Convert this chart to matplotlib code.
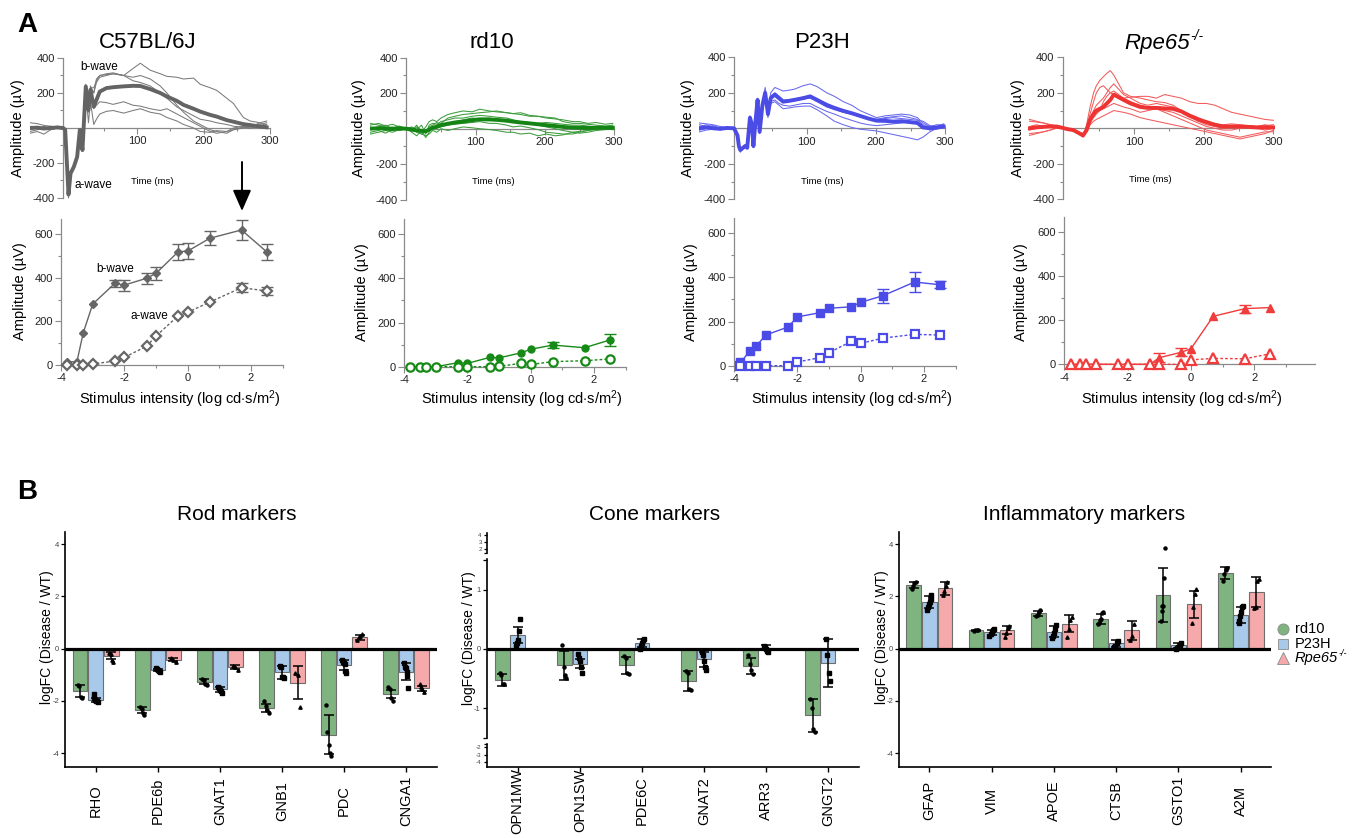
import matplotlib
matplotlib.use('Agg')
import matplotlib.pyplot as plt
import numpy as np

plt.rcParams['font.family'] = ['Liberation Sans', 'DejaVu Sans']
plt.rcParams['mathtext.fontset'] = 'custom'
plt.rcParams['mathtext.rm'] = 'Liberation Sans'
plt.rcParams['mathtext.it'] = 'Liberation Sans:italic'
plt.rcParams['mathtext.bf'] = 'Liberation Sans:bold'
plt.rcParams['axes.unicode_minus'] = False

# ---------------- Panel A: ERG traces ----------------
t_c57 = [-61, -50, -40, -30, -20, -11, -8, -3, 0, 5, 10, 14, 18, 23, 27, 30, 35, 39, 44, 54, 64, 80, 94,
         105, 120, 135, 145, 160, 170, 185, 195, 210, 220, 235, 245, 260, 270, 285, 295]
c57_mean = [0, 2, -3, 0, 3, 0, -10, -380, -260, -222, -165, -11, -126, 237, 103, 218, 122, 160, 208, 228, 233,
            238, 241, 240, 222, 200, 180, 155, 132, 110, 94, 75, 65, 45, 36, 22, 17, 8, 4]
c57_tr1 = [-30, -20, -35, -10, 0, -5, -15, -400, -270, -230, -170, -20, -130, 250, 110, 240, 200, 280, 300, 305,
           310, 300, 340, 370, 330, 310, 295, 290, 280, 285, 250, 230, 215, 170, 140, 60, 40, 30, 40]
c57_tr2 = [30, 25, 15, 10, 5, 0, -10, -370, -250, -215, -160, -5, -120, 230, 100, 230, 230, 270, 300, 310, 315,
           300, 290, 300, 280, 240, 200, 130, 90, 40, 20, -10, -20, -30, -10, 0, 10, 20, 30]
c57_tr3 = [-20, -10, 0, 10, 5, 0, -5, -385, -255, -220, -160, -10, -125, 220, 90, 200, 110, 130, 150, 145, 135,
           150, 130, 125, 110, 100, 110, 80, 60, 30, 10, -20, -30, -20, -10, 5, 0, 10, 20]
c57_tr4 = [10, -5, 10, -10, 0, 0, -10, -390, -265, -225, -170, -15, -135, 210, 30, 150, 20, 50, 80, 95, 100, 85,
           100, 110, 90, 80, 60, 40, 20, 0, -20, -25, -15, -20, 0, 10, 5, 30, 10]
c57_tr5 = [-10, 5, -5, 0, 10, 5, -10, -375, -255, -220, -160, -10, -120, 240, 110, 225, 200, 260, 290, 300, 310,
           300, 270, 260, 240, 200, 170, 120, 100, 70, 50, 40, 30, 20, 10, 5, 0, 10, 20]

t_rd10 = [-52, -40, -30, -20, -10, 0, 8, 15, 22, 28, 33, 38, 44, 50, 60, 70, 82, 95, 106, 120, 130, 145, 154,
          165, 178, 190, 202, 215, 226, 240, 250, 262, 274, 287, 298]
rd10_mean = [0, 3, 0, -2, 2, 0, -5, -10, -12, -15, -5, 5, 10, 20, 28, 35, 40, 48, 53, 52, 50, 45, 40, 35, 30,
             25, 20, 15, 10, 6, 5, 4, 5, 5, 5]
rd10_tr1 = [20, 30, 15, 25, 10, 0, -10, 20, -20, 10, 40, 50, 40, 60, 80, 90, 100, 95, 110, 100, 95, 90, 85, 80,
            70, 70, 60, 55, 50, 40, 40, 30, 35, 25, 30]
rd10_tr2 = [-20, -10, -25, -5, -10, 0, -20, -40, -10, -50, -20, 10, 20, 30, 60, 70, 80, 85, 90, 95, 100, 90, 85,
            90, 75, 70, 65, 60, 40, 30, 30, 25, 20, 15, 20]
rd10_tr3 = [10, -5, 5, 10, 0, 0, 5, -20, -30, -40, -30, -10, -20, 0, -10, 0, 10, 5, 0, -5, -10, -20, -20, -30,
            -25, -40, -30, -40, -35, -20, -15, -10, -5, 0, -5]
rd10_tr4 = [-30, -20, -10, -20, -5, 0, 10, -5, 20, -30, 20, 30, 25, 40, 50, 60, 60, 70, 75, 70, 65, 60, 50, 40,
            30, 20, 10, 0, -10, -20, -25, -20, -10, -5, 0]
rd10_tr5 = [30, 20, 10, 5, 15, 0, -15, 10, -10, -20, 10, 20, 35, 20, 30, 40, 50, 60, 55, 60, 50, 45, 40, 40, 35,
            30, 35, 30, 25, 20, 20, 15, 10, 5, 10]
rd10_tr6 = [0, 10, 20, 0, -10, 0, 0, -10, -30, -10, -10, 15, 5, 10, 20, 25, 30, 35, 40, 30, 30, 20, 10, 15, 5,
            -5, -20, -25, -30, -30, -20, -10, 0, 5, 15]

t_p23h = [-55, -45, -35, -25, -15, -5, 0, 2, 4, 8, 11, 14, 18, 21, 23, 26, 29, 32, 36, 40, 44, 48, 54, 60, 66,
          75, 82, 95, 105, 115, 129, 140, 153, 165, 177, 189, 201, 213, 225, 237, 249, 260, 268, 278, 288, 298]
p23h_mean = [0, 5, 0, -3, 2, 0, -40, -100, -122, -110, -100, -110, 60, 20, -100, 40, 160, -20, 130, 200, 80,
             170, 190, 170, 150, 155, 160, 170, 180, 160, 131, 115, 98, 85, 70, 55, 43, 42, 38, 40, 35, 30, 5,
             0, 5, 10]
p23h_tr1 = [30, 25, 20, 10, 5, 0, -40, -110, -135, -115, -105, -110, 70, 30, -110, 50, 170, -10, 150, 230, 100,
            200, 230, 220, 210, 215, 220, 240, 250, 235, 200, 180, 150, 130, 100, 80, 60, 70, 75, 80, 75, 60,
            30, 10, 20, 20]
p23h_tr2 = [-10, 0, 10, -5, 0, 0, -35, -95, -115, -105, -95, -100, 50, 10, -90, 30, 140, -30, 110, 170, 60, 140,
            150, 130, 110, 115, 120, 125, 125, 105, 70, 40, 20, 5, -5, -10, -15, -25, -35, -45, -55, -65, -50,
            -20, 0, 5]
p23h_tr3 = [20, 10, 15, 0, 5, 0, -45, -105, -125, -110, -100, -108, 55, 25, -105, 45, 165, -20, 135, 210, 90,
            180, 200, 180, 160, 160, 165, 175, 180, 165, 140, 120, 100, 90, 75, 60, 50, 55, 60, 55, 50, 45, 40,
            15, 10, 15]
p23h_tr4 = [-20, -10, -5, 5, 0, 0, -40, -100, -120, -110, -100, -110, 60, 20, -100, 35, 150, -25, 120, 190, 70,
            150, 160, 140, 130, 125, 130, 140, 140, 120, 95, 80, 60, 45, 30, 20, 15, 20, 25, 30, 40, 35, 10,
            -10, -5, 5]
p23h_tr5 = [10, 20, 5, -10, 5, 0, -40, -100, -120, -110, -100, -105, 65, 25, -100, 45, 160, -15, 135, 200, 85,
            175, 180, 160, 145, 150, 155, 165, 170, 150, 120, 105, 90, 80, 65, 55, 50, 60, 65, 70, 60, 50, 20,
            5, 10, 25]

t_rpe = [-50, -40, -30, -20, -11, -3, 5, 13, 20, 27, 32, 37, 42, 46, 51, 56, 61, 66, 71, 78, 85, 95, 109, 120,
         132, 144, 156, 168, 180, 192, 204, 216, 228, 240, 252, 264, 276, 288, 300]
rpe_mean = [0, 5, 8, 10, 10, 3, -5, -10, -25, -40, -10, 50, 80, 100, 110, 120, 140, 160, 190, 175, 160, 140, 120,
            115, 115, 112, 110, 95, 70, 50, 35, 20, 10, 10, 10, 8, 5, 5, 5]
rpe_tr1 = [40, 35, 30, 20, 15, 5, -5, -15, -30, -50, 20, 120, 200, 240, 270, 290, 310, 325, 300, 250, 200, 180,
           170, 160, 150, 145, 130, 100, 70, 40, 20, 10, 0, 5, 10, 15, 10, 20, 10]
rpe_tr2 = [-40, -30, -20, -10, 0, 5, 0, -10, -20, -40, 0, 80, 150, 200, 230, 240, 220, 200, 190, 180, 170, 175,
           180, 180, 170, 190, 180, 170, 150, 140, 140, 130, 110, 90, 80, 70, 60, 50, 45]
rpe_tr3 = [50, 40, 30, 20, 10, 0, -5, -10, -20, -35, -15, 30, 60, 80, 100, 150, 180, 200, 210, 190, 170, 150,
           130, 120, 110, 90, 70, 50, 30, 10, -10, -20, -30, -40, -50, -40, -30, -20, -20]
rpe_tr4 = [-30, -25, -20, -10, 5, 3, -8, -15, -30, -45, -20, 20, 40, 50, 60, 70, 80, 90, 100, 95, 90, 80, 60, 50,
           40, 30, 20, 10, 0, -10, -20, -30, -40, -50, -60, -50, -40, -30, -10]
rpe_tr5 = [10, 20, 10, 15, 10, 5, -5, -10, -25, -40, -10, 60, 100, 130, 150, 170, 200, 230, 250, 220, 190, 170,
           140, 130, 140, 130, 120, 100, 80, 60, 40, 25, 20, 25, 20, 15, 10, 15, 20]
rpe_tr6 = [-10, 0, 10, 5, 0, 0, -5, -10, -20, -30, -5, 40, 70, 90, 100, 110, 120, 130, 140, 130, 120, 110, 90,
           100, 110, 100, 90, 70, 50, 30, 10, 0, -10, -10, 0, 5, 0, -10, 0]

# ---------------- Panel A: intensity-response ----------------
intensity = [-3.8, -3.5, -3.3, -3.0, -2.3, -2.0, -1.3, -1.0, -0.3, 0.0, 0.7, 1.7, 2.5]
c57_b = [15, 15, 148, 280, 375, 367, 398, 421, 520, 523, 582, 620, 519]
c57_b_err = [0, 0, 0, 0, 16, 25, 25, 30, 37, 37, 33, 47, 37]
c57_a = [0, 0, 0, 5, 18, 35, 86, 133, 226, 242, 289, 355, 340]
c57_a_err = [0, 0, 0, 0, 0, 0, 0, 0, 0, 0, 0, 22, 20]
rd10_b = [0, 0, 0, 0, 18, 15, 42, 40, 63, 79, 98, 86, 121]
rd10_b_err = [0, 0, 0, 0, 0, 0, 0, 0, 0, 0, 15, 0, 25]
rd10_a = [0, 0, 0, 0, 0, 0, 0, 2, 15, 10, 23, 27, 35]
rd10_a_err = [0] * 13
p23h_b = [15, 66, 89, 139, 175, 221, 240, 260, 267, 287, 317, 379, 367]
p23h_b_err = [0, 0, 0, 0, 0, 0, 0, 0, 0, 0, 32, 44, 15]
p23h_a = [0, 0, 0, 0, 0, 17, 36, 59, 110, 101, 125, 142, 139]
p23h_a_err = [0] * 13
rpe_b = [0, 0, 0, 0, 0, 0, 0, 30, 55, 71, 218, 253, 258]
rpe_b_err = [0, 0, 0, 0, 0, 0, 0, 20, 18, 0, 0, 18, 0]
rpe_a = [0, 0, 0, 0, 0, 0, 0, 0, 0, 20, 27, 25, 48]
rpe_a_err = [0] * 13

# ---------------- Panel B: qPCR ----------------
rod_genes = ['RHO', 'PDE6b', 'GNAT1', 'GNB1', 'PDC', 'CNGA1']
rod_rd10 = [-1.62, -2.35, -1.26, -2.27, -3.30, -1.75]
rod_p23h = [-1.98, -0.82, -1.56, -0.91, -0.63, -0.88]
rod_rpe65 = [-0.27, -0.43, -0.70, -1.30, 0.43, -1.52]
rod_rd10_sd = [0.22, 0.10, 0.10, 0.17, 0.75, 0.15]
rod_p23h_sd = [0.08, 0.05, 0.08, 0.25, 0.18, 0.32]
rod_rpe65_sd = [0.13, 0.06, 0.07, 0.63, 0.10, 0.10]
rod_rd10_pts = [[-1.40, -1.42, -1.85, -1.88], [-2.25, -2.30, -2.45, -2.55], [-1.15, -1.20, -1.35, -1.40],
                [-2.00, -2.20, -2.35, -2.45], [-2.15, -3.20, -3.70, -4.00, -4.10], [-1.45, -1.55, -1.90, -2.00]]
rod_p23h_pts = [[-1.75, -1.88, -1.95, -2.00, -2.02, -2.05], [-0.75, -0.78, -0.82, -0.85, -0.88],
                [-1.45, -1.52, -1.58, -1.62, -1.70], [-0.65, -0.70, -1.08, -1.10, -1.12],
                [-0.45, -0.50, -0.55, -0.60, -0.85, -0.95], [-0.55, -0.70, -0.75, -0.90, -1.05, -1.50]]
rod_rpe65_pts = [[-0.15, -0.20, -0.45, -0.50], [-0.35, -0.45, -0.50], [-0.65, -0.70, -0.80],
                 [-0.95, -1.00, -2.25], [0.35, 0.45, 0.50, 0.55], [-1.35, -1.45, -1.55, -1.65]]

cone_genes = ['OPN1MW', 'OPN1SW', 'PDE6C', 'GNAT2', 'ARR3', 'GNGT2']
cone_rd10 = [-0.52, -0.28, -0.28, -0.55, -0.29, -1.12]
cone_p23h = [0.23, -0.25, 0.10, -0.18, 0.02, -0.24]
cone_rpe65 = [0, 0, 0, 0, 0, 0]
cone_rd10_sd = [0.10, 0.25, 0.15, 0.17, 0.13, 0.28]
cone_p23h_sd = [0.13, 0.08, 0.07, 0.12, 0.04, 0.40]
cone_rpe65_sd = [0, 0, 0, 0, 0, 0]
cone_rd10_pts = [[-0.40, -0.45, -0.60, -0.60], [0.06, -0.30, -0.45, -0.50], [-0.12, -0.15, -0.40, -0.42],
                 [-0.37, -0.40, -0.68, -0.70], [-0.10, -0.25, -0.35, -0.42], [-0.85, -1.00, -1.35, -1.40]]
cone_p23h_pts = [[0.05, 0.10, 0.15, 0.30, 0.50], [-0.08, -0.15, -0.20, -0.30, -0.40],
                 [0.00, 0.05, 0.10, 0.15, 0.17], [-0.05, -0.10, -0.20, -0.30, -0.35],
                 [0.05, 0.03, 0.00, -0.03, -0.05], [0.17, -0.10, -0.40, -0.55]]
cone_rpe65_pts = [[], [], [], [], [], []]

infl_genes = ['GFAP', 'VIM', 'APOE', 'CTSB', 'GSTO1', 'A2M']
infl_rd10 = [2.43, 0.70, 1.35, 1.14, 2.06, 2.90]
infl_p23h = [1.80, 0.63, 0.65, 0.20, 0.13, 1.28]
infl_rpe65 = [2.31, 0.70, 0.96, 0.70, 1.70, 2.17]
infl_rd10_sd = [0.11, 0.02, 0.09, 0.18, 1.02, 0.24]
infl_p23h_sd = [0.23, 0.10, 0.22, 0.13, 0.10, 0.31]
infl_rpe65_sd = [0.25, 0.15, 0.32, 0.35, 0.51, 0.59]
infl_rd10_pts = [[2.30, 2.40, 2.50, 2.55], [0.69, 0.70, 0.71, 0.72], [1.25, 1.30, 1.40, 1.50],
                 [0.95, 1.00, 1.10, 1.15, 1.35, 1.40], [1.05, 1.45, 1.65, 1.65, 2.70, 3.85], [2.60, 2.85, 3.00, 3.10]]
infl_p23h_pts = [[1.50, 1.60, 1.70, 1.80, 1.90, 2.05], [0.50, 0.55, 0.65, 0.70, 0.75], [0.40, 0.50, 0.60, 0.75, 0.90],
                 [0.05, 0.10, 0.20, 0.30], [0.00, 0.02, 0.05, 0.15, 0.20], [1.00, 1.05, 1.25, 1.40, 1.60, 1.65]]
infl_rpe65_pts = [[2.05, 2.20, 2.40, 2.55], [0.45, 0.60, 0.80, 0.85], [0.45, 0.75, 1.10, 1.20],
                  [0.35, 0.50, 0.95], [0.98, 1.60, 2.10, 2.30], [1.55, 1.60, 2.60, 2.65]]

group_names = ['rd10', 'P23H', 'Rpe65']

# ---------------- Figure ----------------
W, H = 1353, 838
fig = plt.figure(figsize=(W / 100, H / 100), dpi=100)


def px_axes(x0, x1, yt, yb):
    return fig.add_axes([x0 / W, 1 - yb / H, (x1 - x0) / W, (yb - yt) / H])


AX_GRAY = '#8a8a8a'


def erg_top(geom, times, thin, mean, c_thin, c_thick):
    x0, sx, xmin, xmax, y0, sy, spine_t = geom
    ax = px_axes(x0 + xmin * sx, x0 + xmax * sx, y0 - 420 * sy, y0 + 420 * sy)
    ax.set_xlim(xmin, xmax)
    ax.set_ylim(-420, 420)
    ax.patch.set_alpha(0)
    for tr in thin:
        ax.plot(times, tr, color=c_thin, lw=0.75, zorder=3)
    ax.plot(times, mean, color=c_thick, lw=2.8, zorder=4)
    for s in ['top', 'right']:
        ax.spines[s].set_visible(False)
    ax.spines['left'].set_position(('data', spine_t))
    ax.spines['left'].set_bounds(-400, 400)
    ax.spines['bottom'].set_position(('data', 0))
    ax.spines['bottom'].set_bounds(spine_t, 300)
    for s in ['left', 'bottom']:
        ax.spines[s].set_color(AX_GRAY)
        ax.spines[s].set_linewidth(0.9)
    ax.set_yticks([-400, -200, 200, 400])
    ax.set_yticks([-300, -100, 100, 300], minor=True)
    ax.set_xticks([100, 200, 300])
    ax.set_xticks([50, 150, 250], minor=True)
    ax.tick_params(which='both', direction='out', colors=AX_GRAY, labelcolor='#222222',
                   labelsize=8, width=0.8, pad=2)
    ax.tick_params(which='major', length=4)
    ax.tick_params(which='minor', length=2.5)
    return ax


def erg_bot(geom, x, b, b_err, a, a_err, color, mk, b_ms, a_ms):
    x0, sx, xmax, y0, sy = geom
    ax = px_axes(x0 - 4 * sx, x0 + xmax * sx, y0 - 670 * sy, y0)
    ax.set_xlim(-4, xmax)
    ax.set_ylim(0, 670)
    ax.patch.set_alpha(0)
    ax.plot(x, b, color=color, lw=1.0, marker=mk, ms=b_ms, mfc=color, mec=color,
            clip_on=False, zorder=4)
    ax.plot(x, a, color=color, lw=1.0, ls=(0, (2, 1.5)), marker=mk, ms=a_ms, mfc='white',
            mec=color, mew=1.6, clip_on=False, zorder=5)
    for vals, errs in [(b, b_err), (a, a_err)]:
        idx = [i for i, e in enumerate(errs) if e > 0]
        if idx:
            ax.errorbar([x[i] for i in idx], [vals[i] for i in idx], yerr=[errs[i] for i in idx],
                        fmt='none', ecolor=color, elinewidth=1.0, capsize=4, capthick=1.0,
                        clip_on=False, zorder=3)
    for s in ['top', 'right']:
        ax.spines[s].set_visible(False)
    for s in ['left', 'bottom']:
        ax.spines[s].set_color(AX_GRAY)
        ax.spines[s].set_linewidth(0.9)
    ax.spines['bottom'].set_bounds(-4, min(xmax, 3.9))
    ax.set_yticks([0, 200, 400, 600])
    ax.set_yticks([100, 300, 500], minor=True)
    ax.set_xticks([-4, -2, 0, 2])
    ax.set_xticks([-3, -1, 1, 3], minor=True)
    ax.tick_params(which='both', direction='out', colors=AX_GRAY, labelcolor='#222222',
                   labelsize=8, width=0.8, pad=2)
    ax.tick_params(which='major', length=4)
    ax.tick_params(which='minor', length=2.5)
    return ax


# top traces
erg_top((70.5, 0.665, -61, 302, 128.0, 0.175, -11), t_c57,
        [c57_tr1, c57_tr2, c57_tr3, c57_tr4, c57_tr5], c57_mean, '#7a7a7a', '#646464')
erg_top((406.3, 0.693, -53, 302, 128.7, 0.1775, 0), t_rd10,
        [rd10_tr1, rd10_tr2, rd10_tr3, rd10_tr4, rd10_tr5, rd10_tr6], rd10_mean, '#3c9c3c', '#148414')
erg_top((737.5, 0.692, -56, 302, 128.3, 0.1775, -5), t_p23h,
        [p23h_tr1, p23h_tr2, p23h_tr3, p23h_tr4, p23h_tr5], p23h_mean, '#6868f0', '#4b4be6')
erg_top((1064.3, 0.697, -52, 302, 128.3, 0.1775, -2), t_rpe,
        [rpe_tr1, rpe_tr2, rpe_tr3, rpe_tr4, rpe_tr5, rpe_tr6], rpe_mean, '#f25a5a', '#ee3333')

# intensity-response
erg_bot((187.7, 31.65, 3.0, 365.0, 0.2178), intensity, c57_b, c57_b_err, c57_a, c57_a_err,
        '#666666', 'D', 4.5, 5.2)
erg_bot((530.7, 31.65, 3.0, 366.7, 0.2207), intensity, rd10_b, rd10_b_err, rd10_a, rd10_a_err,
        '#168a16', 'o', 5.0, 6.0)
erg_bot((860.7, 31.65, 3.0, 365.7, 0.2207), intensity, p23h_b, p23h_b_err, p23h_a, p23h_a_err,
        '#4b4be8', 's', 5.2, 5.6)
erg_bot((1191.0, 31.7, 3.9, 364.3, 0.22), intensity, rpe_b, rpe_b_err, rpe_a, rpe_a_err,
        '#f03c3c', '^', 5.5, 6.5)

# ---------------- bar charts ----------------
BAR_COLS = ['#7fb37f', '#a9c9ea', '#f5a9ab']
PT_MK = ['o', 's', '^']
PT_MS = [2.2, 3.2, 2.4]
OFFS = [-0.25, 0.0, 0.25]


def draw_bars(ax, vals, sds, pts):
    x = np.arange(len(vals[0]))
    for k in range(3):
        ax.bar(x + OFFS[k], vals[k], width=0.235, color=BAR_COLS[k], edgecolor='#6e6e6e',
               lw=0.8, zorder=2)
        idx = [i for i, s in enumerate(sds[k]) if s > 0]
        if idx:
            ax.errorbar([x[i] + OFFS[k] for i in idx], [vals[k][i] for i in idx],
                        yerr=[sds[k][i] for i in idx], fmt='none', ecolor='black',
                        elinewidth=1.1, capsize=3.5, capthick=1.1, zorder=4)
        for i, p in enumerate(pts[k]):
            if len(p) == 0:
                continue
            jx = x[i] + OFFS[k] + np.linspace(-0.035, 0.035, len(p))
            ax.plot(jx, p, ls='none', marker=PT_MK[k], ms=PT_MS[k], color='black', zorder=5)
    ax.axhline(0, color='black', lw=2.3, zorder=3)


def style_bar_axes(ax, genes, show_x=True, yt=None):
    for s in ['top', 'right']:
        ax.spines[s].set_visible(False)
    ax.spines['left'].set_linewidth(1.2)
    ax.spines['bottom'].set_linewidth(1.2)
    ax.patch.set_alpha(0)
    if yt is not None:
        ax.set_yticks(yt)
    ax.tick_params(axis='y', direction='out', length=3, width=0.9, labelsize=5.5,
                   labelcolor='#444444', pad=1.5)
    if show_x:
        ax.set_xticks(np.arange(len(genes)))
        ax.set_xticklabels(genes, rotation=90, va='center', fontsize=10.5)
        ax.tick_params(axis='x', direction='out', length=3.5, width=1.0, pad=21)
    else:
        ax.spines['bottom'].set_visible(False)
        ax.set_xticks([])


# Rod markers
ax_rod = px_axes(65.3, 436.6, 531.7, 766.7)
ax_rod.set_xlim(-0.49, 5.49)
ax_rod.set_ylim(-4.52, 4.48)
draw_bars(ax_rod, [rod_rd10, rod_p23h, rod_rpe65], [rod_rd10_sd, rod_p23h_sd, rod_rpe65_sd],
          [rod_rd10_pts, rod_p23h_pts, rod_rpe65_pts])
style_bar_axes(ax_rod, rod_genes, yt=[-4, -2, 0, 2, 4])

# Cone markers (broken axis)
ax_cm = px_axes(486.7, 858.6, 559.3, 738.3)
ax_cm.set_xlim(-0.5, 5.49)
ax_cm.set_ylim(-1.51, 1.51)
draw_bars(ax_cm, [cone_rd10, cone_p23h, cone_rpe65], [cone_rd10_sd, cone_p23h_sd, cone_rpe65_sd],
          [cone_rd10_pts, cone_p23h_pts, cone_rpe65_pts])
style_bar_axes(ax_cm, cone_genes, show_x=False, yt=[-1.5, -1, 0, 1, 1.5])
ax_cm.set_yticklabels(['', '-1', '0', '1', ''])

ax_ct = px_axes(486.7, 858.6, 532.7, 553.3)
ax_ct.set_xlim(-0.5, 5.49)
ax_ct.set_ylim(1.45, 4.3)
style_bar_axes(ax_ct, cone_genes, show_x=False, yt=[1.5, 2, 3, 4])
ax_ct.set_yticklabels(['', '2', '3', '4'])
ax_ct.tick_params(axis='y', labelsize=4.5, length=2)

ax_cb = px_axes(486.7, 858.6, 744.0, 766.7)
ax_cb.set_xlim(-0.5, 5.49)
ax_cb.set_ylim(-4.6, -1.55)
style_bar_axes(ax_cb, cone_genes, show_x=True, yt=[-4, -3, -2, -1.6])
ax_cb.set_yticklabels(['-4', '-3', '-2', ''])
ax_cb.tick_params(axis='y', labelsize=4.5, length=2)

# Inflammatory markers
ax_inf = px_axes(899.4, 1271.3, 531.7, 766.7)
ax_inf.set_xlim(-0.48, 5.49)
ax_inf.set_ylim(-4.52, 4.48)
draw_bars(ax_inf, [infl_rd10, infl_p23h, infl_rpe65], [infl_rd10_sd, infl_p23h_sd, infl_rpe65_sd],
          [infl_rd10_pts, infl_p23h_pts, infl_rpe65_pts])
style_bar_axes(ax_inf, infl_genes, yt=[-4, -2, 0, 2, 4])

# ---------------- overlay texts ----------------
ov = fig.add_axes([0, 0, 1, 1])
ov.set_xlim(0, W)
ov.set_ylim(H, 0)
ov.axis('off')


def italic_with_sup(x, y, base, sup, fs, ha):
    t = ov.text(x, y, base, fontsize=fs, style='italic', ha=ha, va='center')
    ov.annotate(sup, xy=(1.0, 0.82), xycoords=t, fontsize=fs * 0.62, style='italic',
                ha='left', va='center')
    return t


ov.text(27, 25, 'A', fontsize=20, fontweight='bold', ha='center', va='center')
ov.text(27, 492, 'B', fontsize=20, fontweight='bold', ha='center', va='center')

for txt, xc in [('C57BL/6J', 148), ('rd10', 492), ('P23H', 822)]:
    ov.text(xc, 43, txt, fontsize=16, ha='center', va='center')
italic_with_sup(1157, 43, 'Rpe65', '-/-', 16, 'center')

amp = 'Amplitude (µV)'
for xl, yl in [(17.7, 128), (20, 291), (359, 128), (362, 292), (688, 128), (691, 292), (1018, 128), (1021, 292)]:
    ov.text(xl, yl, amp, fontsize=10.5, rotation=90, ha='center', va='center')

for xl, yl in [(152, 181), (493, 181), (822, 181), (1150, 179)]:
    ov.text(xl, yl, 'Time (ms)', fontsize=6.8, ha='center', va='center')

stim = r'Stimulus intensity (log cd$\cdot$s/m$^{2}$)'
for xl in [180, 522, 852, 1182]:
    ov.text(xl, 399, stim, fontsize=10.5, ha='center', va='center')

ov.text(99, 67, 'b-wave', fontsize=8.5, ha='center', va='center')
ov.text(93, 185, 'a-wave', fontsize=8.5, ha='center', va='center')
ov.text(115, 269, 'b-wave', fontsize=8.5, ha='center', va='center')
ov.text(149, 316, 'a-wave', fontsize=8.5, ha='center', va='center')

ov.annotate('', xy=(242, 211), xytext=(242, 162),
            arrowprops=dict(arrowstyle='-|>,head_length=0.8,head_width=0.35', color='black',
                            lw=1.4, mutation_scale=16, shrinkA=0, shrinkB=0))

for txt, xc in [('Rod markers', 237), ('Cone markers', 655), ('Inflammatory markers', 1084)]:
    ov.text(xc, 514, txt, fontsize=15, ha='center', va='center')

for xl, yl in [(47.5, 637), (469, 638), (881.7, 637)]:
    ov.text(xl, yl, 'logFC (Disease / WT)', fontsize=10, rotation=90, ha='center', va='center')

leg_mk = ['o', 's', '^']
leg_y = [629.3, 644.0, 658.3]
for k in range(3):
    ov.plot([1283], [leg_y[k]], marker=leg_mk[k], ms=8 if k != 1 else 7, color=BAR_COLS[k],
            mec='#8a8a8a', mew=0.6, ls='none')
    if k < 2:
        ov.text(1295, leg_y[k], group_names[k], fontsize=10.5, ha='left', va='center')
    else:
        italic_with_sup(1295, leg_y[k], group_names[k], '-/-', 10.5, 'left')

fig.savefig('out.png', dpi=100)
